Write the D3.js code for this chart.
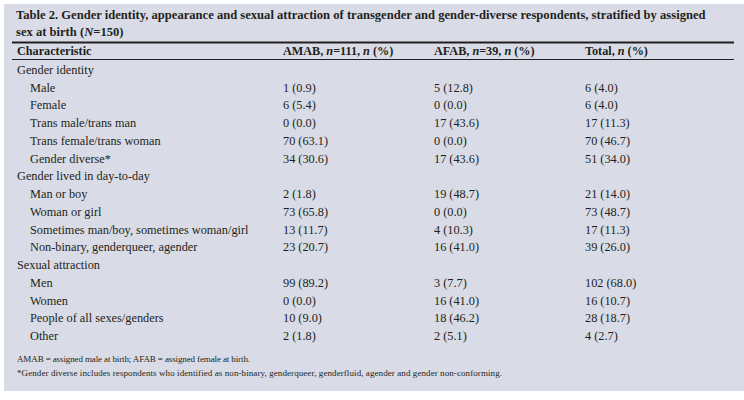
<!DOCTYPE html>
<html>
<head>
<meta charset="utf-8">
<script src="https://cdn.jsdelivr.net/npm/d3@7"></script>
<style>
  body { margin: 0; background: #fff; }
  svg text { font-family: "Liberation Serif", "DejaVu Serif", serif; fill: #231f20; }
</style>
</head>
<body>
<svg id="tbl" width="744" height="400"></svg>
<script>
// table content
var titleLines = [
  [["Table 2. Gender identity, appearance and sexual attraction of transgender and gender-diverse respondents, stratified by assigned", ""]],
  [["sex at birth (", ""], ["N", "i"], ["=150)", ""]]
];
var headers = [
  [["Characteristic", ""]],
  [["AMAB, ", ""], ["n", "i"], ["=111, ", ""], ["n", "i"], [" (%)", ""]],
  [["AFAB, ", ""], ["n", "i"], ["=39, ", ""], ["n", "i"], [" (%)", ""]],
  [["Total, ", ""], ["n", "i"], [" (%)", ""]]
];
var groups = ["Gender identity", "Gender lived in day-to-day", "Sexual attraction"];
var categories = [
  ["Male", "Female", "Trans male/trans man", "Trans female/trans woman", "Gender diverse*"],
  ["Man or boy", "Woman or girl", "Sometimes man/boy, sometimes woman/girl", "Non-binary, genderqueer, agender"],
  ["Men", "Women", "People of all sexes/genders", "Other"]
];
var amabN   = [[1, 6, 0, 70, 34], [2, 73, 13, 23], [99, 0, 10, 2]];
var amabPct = [[0.9, 5.4, 0.0, 63.1, 30.6], [1.8, 65.8, 11.7, 20.7], [89.2, 0.0, 9.0, 1.8]];
var afabN   = [[5, 0, 17, 0, 17], [19, 0, 4, 16], [3, 16, 18, 2]];
var afabPct = [[12.8, 0.0, 43.6, 0.0, 43.6], [48.7, 0.0, 10.3, 41.0], [7.7, 41.0, 46.2, 5.1]];
var totN    = [[6, 6, 17, 70, 51], [21, 73, 17, 39], [102, 16, 28, 4]];
var totPct  = [[4.0, 4.0, 11.3, 46.7, 34.0], [14.0, 48.7, 11.3, 26.0], [68.0, 10.7, 18.7, 2.7]];
var footnotes = [
  "AMAB = assigned male at birth; AFAB = assigned female at birth.",
  "*Gender diverse includes respondents who identified as non-binary, genderqueer, genderfluid, agender and gender non-conforming."
];

var svg = d3.select("#tbl");
var W = 744;

// panel
svg.append("rect").attr("x", 4).attr("y", 4).attr("width", W - 4).attr("height", 387)
  .attr("fill", "#d9dce6");

// flatten rows
var rows = [];
groups.forEach(function (g, gi) {
  rows.push({ label: g, group: true });
  categories[gi].forEach(function (c, ci) {
    rows.push({
      label: c, group: false,
      vals: [
        amabN[gi][ci] + " (" + amabPct[gi][ci].toFixed(1) + ")",
        afabN[gi][ci] + " (" + afabPct[gi][ci].toFixed(1) + ")",
        totN[gi][ci] + " (" + totPct[gi][ci].toFixed(1) + ")"
      ]
    });
  });
});

var colX = d3.scaleOrdinal().domain([0, 1, 2, 3]).range([17, 283, 434, 585]);
var rowY = d3.scaleLinear().domain([0, rows.length - 1]).range([74, 340]);

function runs(sel, parts) {
  parts.forEach(function (p) {
    sel.append("tspan").text(p[0]).attr("font-style", p[1] == "i" ? "italic" : null);
  });
}

// scale a text's font so it spans the given width
function fit(t, width) {
  var fs = +t.attr("font-size");
  var w = t.node().getComputedTextLength();
  fs = fs * width / w;
  t.attr("font-size", fs);
  return fs;
}

// title
var tfs = 13;
titleLines.forEach(function (ln, i) {
  var t = svg.append("text").attr("x", 16).attr("y", 19 + i * 16.5)
    .attr("font-size", tfs).attr("font-weight", "bold");
  runs(t, ln);
  if (i == 0) tfs = fit(t, 690);
  else t.attr("font-size", tfs);
});

// rules
svg.append("line").attr("x1", 12).attr("x2", 734).attr("y1", 42.5).attr("y2", 42.5)
  .attr("stroke", "#231f20").attr("stroke-width", 2);
svg.append("line").attr("x1", 12).attr("x2", 734).attr("y1", 59.5).attr("y2", 59.5)
  .attr("stroke", "#231f20").attr("stroke-width", 1);

// header
headers.forEach(function (h, i) {
  var t = svg.append("text").attr("x", colX(i)).attr("y", 55)
    .attr("font-size", 12.2).attr("font-weight", "bold");
  runs(t, h);
});

// body rows
var r = svg.selectAll("g.row").data(rows).enter().append("g").attr("class", "row")
  .attr("transform", function (d, i) { return "translate(0," + rowY(i) + ")"; });

r.append("text").attr("x", function (d) { return d.group ? colX(0) : colX(0) + 13; })
  .attr("font-size", 12.3).text(function (d) { return d.label; });

r.filter(function (d) { return !d.group; }).selectAll("text.v")
  .data(function (d) { return d.vals; }).enter().append("text").attr("class", "v")
  .attr("x", function (d, i) { return colX(i + 1); })
  .attr("font-size", 12.3).text(function (d) { return d; });

// footnotes
var fnW = [233, 485];
footnotes.forEach(function (f, i) {
  svg.append("text").attr("x", 17).attr("y", 362 + i * 14)
    .attr("font-size", 9).attr("textLength", fnW[i]).attr("lengthAdjust", "spacing")
    .text(f);
});
</script>
</body>
</html>
